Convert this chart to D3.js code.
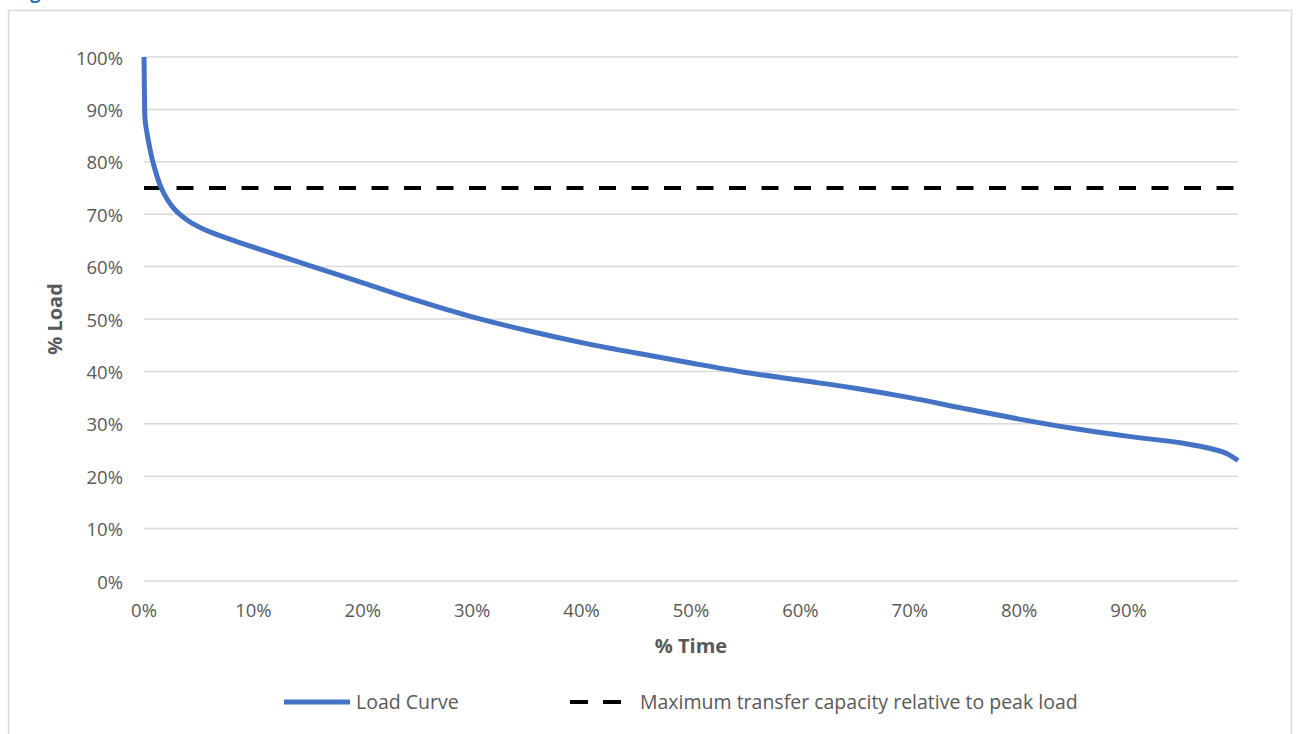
<!DOCTYPE html>
<html>
<head>
<meta charset="utf-8">
<script src="https://cdn.jsdelivr.net/npm/d3@7"></script>
<style>
  body { margin: 0; background: #fff; }
  svg { display: block; }
  text { font-family: "Open Sans", sans-serif; fill: #595959; }
</style>
</head>
<body>
<div id="chart"></div>
<script>
// load duration curve
const timePct = [0, 0.05, 0.1, 0.4, 0.85, 1.6, 2.68, 4, 5.5, 7.5, 10, 15, 20, 25, 30, 35, 40, 45, 50, 55, 60, 65, 70, 75, 80, 85, 90, 95, 98, 99, 100];
const loadPct = [100, 92, 88, 84, 79.7, 74.9, 71.2, 68.8, 67.1, 65.5, 63.7, 60.3, 56.9, 53.5, 50.4, 47.8, 45.5, 43.5, 41.6, 39.8, 38.3, 36.8, 35.0, 32.9, 30.9, 29.1, 27.6, 26.3, 25.0, 24.3, 23.0];
const capacityPct = 75;
const xTicks = [0, 10, 20, 30, 40, 50, 60, 70, 80, 90];
const yTicks = [0, 10, 20, 30, 40, 50, 60, 70, 80, 90, 100];
const seriesNames = ["Load Curve", "Maximum transfer capacity relative to peak load"];

const svgWidth = 1297, svgHeight = 734;
const plotLeft = 144, plotRight = 1238, plotTop = 57, plotBottom = 581;

const svg = d3.select("#chart").append("svg")
    .attr("width", svgWidth)
    .attr("height", svgHeight);

// caption fragment cut off at the top
svg.append("text")
    .attr("x", 15).attr("y", -1)
    .style("font-weight", "bold").style("font-size", "18px")
    .style("fill", "#1F6BB0")
    .text("Figure");

// chart border
svg.append("rect")
    .attr("x", 8.5).attr("y", 10.5)
    .attr("width", 1283).attr("height", 740)
    .attr("fill", "none").attr("stroke", "#d9d9d9").attr("stroke-width", 1.5);

const x = d3.scaleLinear().domain([0, 100]).range([plotLeft, plotRight]);
const y = d3.scaleLinear().domain([0, 100]).range([plotBottom, plotTop]);

// gridlines
svg.append("g")
    .selectAll("line")
    .data(yTicks)
    .enter()
    .append("line")
    .attr("x1", plotLeft).attr("x2", plotRight)
    .attr("y1", d => y(d)).attr("y2", d => y(d))
    .attr("stroke", "#d9d9d9").attr("stroke-width", 1.5);

// y tick labels
svg.append("g")
    .selectAll("text")
    .data(yTicks)
    .enter()
    .append("text")
    .attr("x", 123)
    .attr("y", d => y(d) + 7.5)
    .style("text-anchor", "end")
    .style("font-size", "18.5px")
    .text(d => d + "%");

// x tick labels
svg.append("g")
    .selectAll("text")
    .data(xTicks)
    .enter()
    .append("text")
    .attr("x", d => x(d))
    .attr("y", 617)
    .style("text-anchor", "middle")
    .style("font-size", "18.5px")
    .text(d => d + "%");

// axis titles
svg.append("text")
    .attr("x", (plotLeft + plotRight) / 2).attr("y", 653)
    .style("text-anchor", "middle")
    .style("font-size", "20px").style("font-weight", "bold")
    .text("% Time");

svg.append("text")
    .attr("transform", "translate(62," + ((plotTop + plotBottom) / 2) + ") rotate(-90)")
    .style("text-anchor", "middle")
    .style("font-size", "20px").style("font-weight", "bold")
    .text("% Load");

// capacity line
svg.append("line")
    .attr("x1", x(0)).attr("x2", x(100))
    .attr("y1", y(capacityPct)).attr("y2", y(capacityPct))
    .attr("stroke", "#000").attr("stroke-width", 4)
    .attr("stroke-dasharray", "17,15.5");

// load curve
const points = timePct.map((t, i) => ({ t: t, v: loadPct[i] }));
const line = d3.line()
    .x(d => x(d.t))
    .y(d => y(d.v))
    .curve(d3.curveCatmullRom.alpha(0.5));

svg.append("path")
    .datum(points)
    .attr("d", line)
    .attr("fill", "none")
    .attr("stroke", "#4472C4")
    .attr("stroke-width", 5);

// legend
const legend = svg.append("g");
legend.append("line")
    .attr("x1", 284).attr("x2", 350).attr("y1", 702).attr("y2", 702)
    .attr("stroke", "#4472C4").attr("stroke-width", 5);
legend.append("text")
    .attr("x", 356).attr("y", 708.5)
    .style("font-size", "19.5px")
    .text(seriesNames[0]);
legend.append("line")
    .attr("x1", 570).attr("x2", 622).attr("y1", 702).attr("y2", 702)
    .attr("stroke", "#000").attr("stroke-width", 4)
    .attr("stroke-dasharray", "18,15");
legend.append("text")
    .attr("x", 640).attr("y", 708.5)
    .style("font-size", "19.5px")
    .text(seriesNames[1]);
</script>
</body>
</html>
